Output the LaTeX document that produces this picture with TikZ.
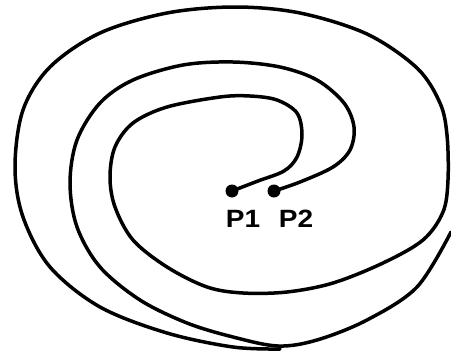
\documentclass[tikz,border=0pt]{standalone}
\usepackage{fontspec}
\setmainfont{Liberation Sans}
\tikzset{
  spiral/.style={line width=3.5pt, line cap=round, line join=round},
  dotnode/.style={circle, fill=black, inner sep=0pt, minimum size=13pt},
  lab/.style={font=\fontsize{25}{27}\selectfont\bfseries, inner sep=0pt, xscale=1.12}
}
\begin{document}
\begin{tikzpicture}[x=1pt,y=-1pt]
\useasboundingbox (0,0) rectangle (451,354);
\node[dotnode] (p1) at (232,191) {};
\node[dotnode] (p2) at (274,191) {};
\node[lab] (l1) at (243,219) {P1};
\node[lab] (l2) at (296,219) {P2};
% inner arm from P1, winding out to the outer loop
\draw[spiral] plot[smooth, tension=0.55] coordinates {
 (232,191) (258,181) (284,171) (297,157) (302,135) (297,113) (277,100) (250,96)
 (220,97) (167,107) (133,123) (115,147) (110,177) (115,207) (133,240) (167,267)
 (207,287) (243,293) (287,292) (333,283) (383,263) (423,240) (443,212) (448,180)
 (447,135) (440,103) (417,68) (367,34) (300,13) (235,7) (167,13) (100,33)
 (50,67) (23,110) (15,167) (23,217) (50,267) (100,307) (167,333) (233,347) (280,349)};
% middle arm from P2
\draw[spiral] plot[smooth, tension=0.55] coordinates {
 (274,191) (300,182) (333,167) (350,150) (354,127) (344,103) (317,80) (280,67)
 (233,62) (183,65) (133,80) (100,103) (77,140) (70,183) (77,227) (100,267)
 (140,300) (187,323) (233,337) (278,346) (317,340) (367,320) (417,287) (451,232)};
\end{tikzpicture}
\end{document}
